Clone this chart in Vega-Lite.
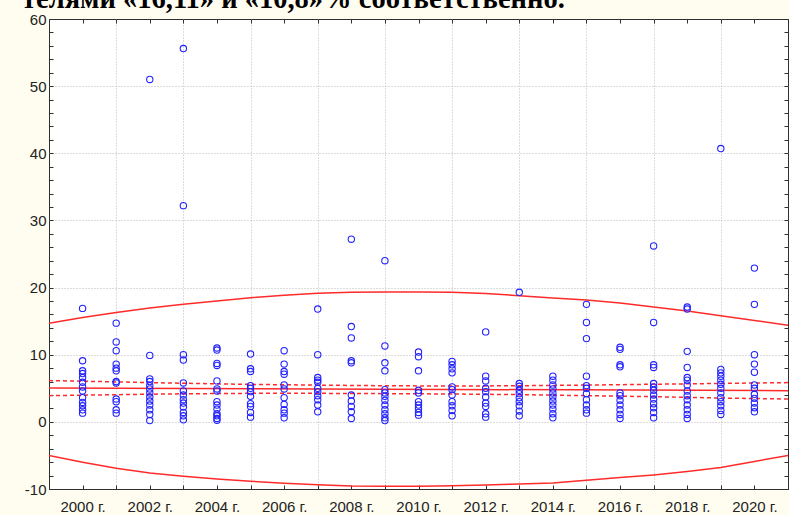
{
  "$schema": "https://vega.github.io/schema/vega-lite/v6.json",
  "width": 739,
  "height": 470,
  "autosize": {"type": "none"},
  "padding": {"left": 49, "top": 19, "right": 1, "bottom": 26},
  "background": "#FFFCF0",
  "title": {"text": "телями «16,11» и «10,8»% соответственно.", "anchor": "start", "frame": "group", "dx": -27, "offset": -24, "font": "Liberation Serif", "fontSize": 28.5, "fontWeight": "bold", "color": "#000000", "baseline": "alphabetic"},
  "config": {
    "view": {"fill": "white", "stroke": "#303030", "strokeWidth": 1},
    "axis": {"domain": false, "labelFont": "Liberation Sans", "labelFontSize": 14, "labelColor": "#222222", "tickColor": "#303030", "labelOverlap": false, "title": null}
  },
  "datasets": {
    "pts": [
      {"year":2000,"value":16.9},{"year":2000,"value":9.1},{"year":2000,"value":7.6},{"year":2000,"value":7.2},{"year":2000,"value":6.6},{"year":2000,"value":5.9},{"year":2000,"value":5.2},{"year":2000,"value":4.6},{"year":2000,"value":3.6},{"year":2000,"value":2.9},{"year":2000,"value":2.4},{"year":2000,"value":1.8},{"year":2000,"value":1.3},
      {"year":2001,"value":14.7},{"year":2001,"value":11.9},{"year":2001,"value":10.6},{"year":2001,"value":8.6},{"year":2001,"value":8.0},{"year":2001,"value":7.6},{"year":2001,"value":6.0},{"year":2001,"value":5.8},{"year":2001,"value":3.4},{"year":2001,"value":3.0},{"year":2001,"value":1.8},{"year":2001,"value":1.3},
      {"year":2002,"value":51.0},{"year":2002,"value":9.9},{"year":2002,"value":6.4},{"year":2002,"value":6.0},{"year":2002,"value":5.4},{"year":2002,"value":4.9},{"year":2002,"value":4.3},{"year":2002,"value":3.7},{"year":2002,"value":3.1},{"year":2002,"value":2.5},{"year":2002,"value":1.8},{"year":2002,"value":1.1},{"year":2002,"value":0.2},
      {"year":2003,"value":55.6},{"year":2003,"value":32.2},{"year":2003,"value":10.0},{"year":2003,"value":9.2},{"year":2003,"value":5.8},{"year":2003,"value":4.6},{"year":2003,"value":4.0},{"year":2003,"value":3.3},{"year":2003,"value":2.8},{"year":2003,"value":2.2},{"year":2003,"value":1.4},{"year":2003,"value":0.9},{"year":2003,"value":0.3},
      {"year":2004,"value":11.0},{"year":2004,"value":10.7},{"year":2004,"value":8.7},{"year":2004,"value":8.4},{"year":2004,"value":6.1},{"year":2004,"value":4.9},{"year":2004,"value":4.6},{"year":2004,"value":3.0},{"year":2004,"value":2.5},{"year":2004,"value":1.9},{"year":2004,"value":1.2},{"year":2004,"value":0.9},{"year":2004,"value":0.5},{"year":2004,"value":0.25},
      {"year":2005,"value":10.1},{"year":2005,"value":7.9},{"year":2005,"value":7.5},{"year":2005,"value":5.4},{"year":2005,"value":5.0},{"year":2005,"value":4.5},{"year":2005,"value":3.8},{"year":2005,"value":2.7},{"year":2005,"value":2.3},{"year":2005,"value":1.4},{"year":2005,"value":0.7},
      {"year":2006,"value":10.6},{"year":2006,"value":8.6},{"year":2006,"value":7.5},{"year":2006,"value":7.1},{"year":2006,"value":5.5},{"year":2006,"value":4.9},{"year":2006,"value":3.6},{"year":2006,"value":2.6},{"year":2006,"value":1.8},{"year":2006,"value":1.3},{"year":2006,"value":0.6},
      {"year":2007,"value":16.8},{"year":2007,"value":10.0},{"year":2007,"value":6.6},{"year":2007,"value":6.2},{"year":2007,"value":5.9},{"year":2007,"value":5.0},{"year":2007,"value":4.5},{"year":2007,"value":3.9},{"year":2007,"value":3.3},{"year":2007,"value":2.5},{"year":2007,"value":1.5},
      {"year":2008,"value":27.2},{"year":2008,"value":14.2},{"year":2008,"value":12.5},{"year":2008,"value":9.1},{"year":2008,"value":8.8},{"year":2008,"value":4.0},{"year":2008,"value":3.1},{"year":2008,"value":2.3},{"year":2008,"value":1.5},{"year":2008,"value":0.5},
      {"year":2009,"value":24.0},{"year":2009,"value":11.3},{"year":2009,"value":8.8},{"year":2009,"value":7.6},{"year":2009,"value":4.8},{"year":2009,"value":4.3},{"year":2009,"value":3.8},{"year":2009,"value":3.2},{"year":2009,"value":2.5},{"year":2009,"value":1.8},{"year":2009,"value":1.2},{"year":2009,"value":0.6},{"year":2009,"value":0.2},
      {"year":2010,"value":10.4},{"year":2010,"value":9.7},{"year":2010,"value":7.6},{"year":2010,"value":4.7},{"year":2010,"value":4.3},{"year":2010,"value":3.0},{"year":2010,"value":2.5},{"year":2010,"value":2.0},{"year":2010,"value":1.4},{"year":2010,"value":1.0},
      {"year":2011,"value":9.0},{"year":2011,"value":8.5},{"year":2011,"value":7.9},{"year":2011,"value":7.3},{"year":2011,"value":5.2},{"year":2011,"value":4.8},{"year":2011,"value":4.0},{"year":2011,"value":3.0},{"year":2011,"value":2.4},{"year":2011,"value":1.7},{"year":2011,"value":0.9},
      {"year":2012,"value":13.4},{"year":2012,"value":6.8},{"year":2012,"value":6.1},{"year":2012,"value":5.0},{"year":2012,"value":4.5},{"year":2012,"value":3.7},{"year":2012,"value":2.8},{"year":2012,"value":2.3},{"year":2012,"value":1.2},{"year":2012,"value":0.7},
      {"year":2013,"value":19.3},{"year":2013,"value":5.7},{"year":2013,"value":5.3},{"year":2013,"value":4.7},{"year":2013,"value":4.2},{"year":2013,"value":3.6},{"year":2013,"value":3.0},{"year":2013,"value":2.4},{"year":2013,"value":1.6},{"year":2013,"value":0.9},
      {"year":2014,"value":6.8},{"year":2014,"value":6.2},{"year":2014,"value":5.5},{"year":2014,"value":4.9},{"year":2014,"value":4.3},{"year":2014,"value":3.7},{"year":2014,"value":3.1},{"year":2014,"value":2.5},{"year":2014,"value":1.9},{"year":2014,"value":1.2},{"year":2014,"value":0.6},
      {"year":2015,"value":17.5},{"year":2015,"value":14.8},{"year":2015,"value":12.4},{"year":2015,"value":6.8},{"year":2015,"value":5.4},{"year":2015,"value":5.0},{"year":2015,"value":4.2},{"year":2015,"value":3.3},{"year":2015,"value":2.5},{"year":2015,"value":1.8},{"year":2015,"value":1.3},
      {"year":2016,"value":11.1},{"year":2016,"value":10.8},{"year":2016,"value":8.5},{"year":2016,"value":8.2},{"year":2016,"value":4.3},{"year":2016,"value":3.9},{"year":2016,"value":3.2},{"year":2016,"value":2.5},{"year":2016,"value":1.8},{"year":2016,"value":1.1},{"year":2016,"value":0.5},
      {"year":2017,"value":26.2},{"year":2017,"value":14.8},{"year":2017,"value":8.5},{"year":2017,"value":8.1},{"year":2017,"value":5.7},{"year":2017,"value":5.2},{"year":2017,"value":4.7},{"year":2017,"value":4.0},{"year":2017,"value":3.4},{"year":2017,"value":2.7},{"year":2017,"value":2.1},{"year":2017,"value":1.4},{"year":2017,"value":0.6},
      {"year":2018,"value":17.1},{"year":2018,"value":16.8},{"year":2018,"value":10.5},{"year":2018,"value":8.1},{"year":2018,"value":6.6},{"year":2018,"value":6.2},{"year":2018,"value":5.5},{"year":2018,"value":4.6},{"year":2018,"value":3.9},{"year":2018,"value":3.3},{"year":2018,"value":2.5},{"year":2018,"value":1.8},{"year":2018,"value":1.1},{"year":2018,"value":0.5},
      {"year":2019,"value":40.7},{"year":2019,"value":7.8},{"year":2019,"value":7.3},{"year":2019,"value":6.8},{"year":2019,"value":6.2},{"year":2019,"value":5.6},{"year":2019,"value":5.0},{"year":2019,"value":4.3},{"year":2019,"value":3.6},{"year":2019,"value":3.0},{"year":2019,"value":2.4},{"year":2019,"value":1.7},{"year":2019,"value":1.1},
      {"year":2020,"value":22.9},{"year":2020,"value":17.5},{"year":2020,"value":10.0},{"year":2020,"value":8.6},{"year":2020,"value":7.4},{"year":2020,"value":5.5},{"year":2020,"value":5.0},{"year":2020,"value":4.1},{"year":2020,"value":3.5},{"year":2020,"value":2.8},{"year":2020,"value":2.1},{"year":2020,"value":1.5}
    ],
    "lines": [
      {"s":"pu","t":"solid","year":1999,"value":14.7},{"s":"pu","t":"solid","year":2000,"value":15.55},{"s":"pu","t":"solid","year":2001,"value":16.3},{"s":"pu","t":"solid","year":2002,"value":16.95},{"s":"pu","t":"solid","year":2003,"value":17.5},{"s":"pu","t":"solid","year":2004,"value":18.0},{"s":"pu","t":"solid","year":2005,"value":18.5},{"s":"pu","t":"solid","year":2006,"value":18.85},{"s":"pu","t":"solid","year":2007,"value":19.15},{"s":"pu","t":"solid","year":2008,"value":19.3},{"s":"pu","t":"solid","year":2009,"value":19.35},{"s":"pu","t":"solid","year":2010,"value":19.35},{"s":"pu","t":"solid","year":2011,"value":19.3},{"s":"pu","t":"solid","year":2012,"value":19.1},{"s":"pu","t":"solid","year":2013,"value":18.8},{"s":"pu","t":"solid","year":2014,"value":18.45},{"s":"pu","t":"solid","year":2015,"value":18.15},{"s":"pu","t":"solid","year":2016,"value":17.7},{"s":"pu","t":"solid","year":2017,"value":17.1},{"s":"pu","t":"solid","year":2018,"value":16.5},{"s":"pu","t":"solid","year":2019,"value":15.8},{"s":"pu","t":"solid","year":2020,"value":15.1},{"s":"pu","t":"solid","year":2021,"value":14.4},
      {"s":"pl","t":"solid","year":1999,"value":-5.0},{"s":"pl","t":"solid","year":2000,"value":-6.0},{"s":"pl","t":"solid","year":2001,"value":-6.9},{"s":"pl","t":"solid","year":2002,"value":-7.6},{"s":"pl","t":"solid","year":2003,"value":-8.1},{"s":"pl","t":"solid","year":2004,"value":-8.5},{"s":"pl","t":"solid","year":2005,"value":-8.85},{"s":"pl","t":"solid","year":2006,"value":-9.15},{"s":"pl","t":"solid","year":2007,"value":-9.35},{"s":"pl","t":"solid","year":2008,"value":-9.55},{"s":"pl","t":"solid","year":2009,"value":-9.6},{"s":"pl","t":"solid","year":2010,"value":-9.6},{"s":"pl","t":"solid","year":2011,"value":-9.5},{"s":"pl","t":"solid","year":2012,"value":-9.4},{"s":"pl","t":"solid","year":2013,"value":-9.25},{"s":"pl","t":"solid","year":2014,"value":-9.1},{"s":"pl","t":"solid","year":2015,"value":-8.7},{"s":"pl","t":"solid","year":2016,"value":-8.3},{"s":"pl","t":"solid","year":2017,"value":-7.9},{"s":"pl","t":"solid","year":2018,"value":-7.4},{"s":"pl","t":"solid","year":2019,"value":-6.8},{"s":"pl","t":"solid","year":2020,"value":-5.9},{"s":"pl","t":"solid","year":2021,"value":-5.0},
      {"s":"reg","t":"solid","year":1999,"value":5.05},{"s":"reg","t":"solid","year":2021,"value":4.65},
      {"s":"cu","t":"dash","year":1999,"value":6.15},{"s":"cu","t":"dash","year":2001,"value":5.95},{"s":"cu","t":"dash","year":2003,"value":5.75},{"s":"cu","t":"dash","year":2005,"value":5.58},{"s":"cu","t":"dash","year":2007,"value":5.47},{"s":"cu","t":"dash","year":2009,"value":5.38},{"s":"cu","t":"dash","year":2011,"value":5.33},{"s":"cu","t":"dash","year":2013,"value":5.38},{"s":"cu","t":"dash","year":2015,"value":5.48},{"s":"cu","t":"dash","year":2017,"value":5.6},{"s":"cu","t":"dash","year":2019,"value":5.72},{"s":"cu","t":"dash","year":2021,"value":5.85},
      {"s":"cl","t":"dash","year":1999,"value":3.9},{"s":"cl","t":"dash","year":2001,"value":4.05},{"s":"cl","t":"dash","year":2003,"value":4.18},{"s":"cl","t":"dash","year":2005,"value":4.25},{"s":"cl","t":"dash","year":2007,"value":4.25},{"s":"cl","t":"dash","year":2009,"value":4.2},{"s":"cl","t":"dash","year":2011,"value":4.15},{"s":"cl","t":"dash","year":2013,"value":4.05},{"s":"cl","t":"dash","year":2015,"value":3.9},{"s":"cl","t":"dash","year":2017,"value":3.75},{"s":"cl","t":"dash","year":2019,"value":3.55},{"s":"cl","t":"dash","year":2021,"value":3.4}
    ]
  },
  "layer": [
    {
      "data": {"name": "lines"},
      "transform": [{"filter": "datum.t == 'solid'"}],
      "mark": {"type": "line", "color": "#ff2a2a", "strokeWidth": 1.5, "clip": true},
      "encoding": {
        "x": {"field": "year", "type": "quantitative", "scale": {"domain": [1999, 2021], "nice": false, "zero": false},
              "axis": {"orient": "top", "values": [1999,2000,2001,2002,2003,2004,2005,2006,2007,2008,2009,2010,2011,2012,2013,2014,2015,2016,2017,2018,2019,2020,2021], "labels": false, "grid": false, "tickSize": -4}},
        "y": {"field": "value", "type": "quantitative", "scale": {"domain": [-10, 60], "nice": false, "zero": false},
              "axis": {"orient": "right", "values": [-10,-8,-6,-4,-2,0,2,4,6,8,10,12,14,16,18,20,22,24,26,28,30,32,34,36,38,40,42,44,46,48,50,52,54,56,58,60], "labels": false, "grid": false, "tickSize": -4}},
        "detail": {"field": "s"}
      }
    },
    {
      "data": {"name": "lines"},
      "transform": [{"filter": "datum.t == 'dash'"}],
      "mark": {"type": "line", "color": "#ff2a2a", "strokeWidth": 1.5, "strokeDash": [4, 3], "clip": true},
      "encoding": {
        "x": {"field": "year", "type": "quantitative", "axis": null},
        "y": {"field": "value", "type": "quantitative", "axis": null},
        "detail": {"field": "s"}
      }
    },
    {
      "data": {"name": "pts"},
      "mark": {"type": "point", "shape": "circle", "filled": false, "color": "#2222ff", "strokeWidth": 1.1, "size": 40, "opacity": 1},
      "encoding": {
        "x": {"field": "year", "type": "quantitative",
              "axis": {"orient": "bottom", "values": [1999,2000,2001,2002,2003,2004,2005,2006,2007,2008,2009,2010,2011,2012,2013,2014,2015,2016,2017,2018,2019,2020,2021],
                       "labelExpr": "datum.value % 2 == 0 ? datum.value + ' г.' : ''", "grid": true, "gridColor": "#b8b8b8", "gridDash": [1, 2],
                       "gridOpacity": {"condition": {"test": "datum.value % 2 == 1 && datum.value > 1999 && datum.value < 2021", "value": 1}, "value": 0},
                       "tickSize": -4, "labelPadding": 14, "labelFontSize": 15}},
        "y": {"field": "value", "type": "quantitative",
              "axis": {"orient": "left", "values": [-10,-8,-6,-4,-2,0,2,4,6,8,10,12,14,16,18,20,22,24,26,28,30,32,34,36,38,40,42,44,46,48,50,52,54,56,58,60],
                       "labelExpr": "datum.value % 10 == 0 ? '' + datum.value : ''", "grid": true, "gridColor": "#b8b8b8", "gridDash": [1, 2],
                       "gridOpacity": {"condition": {"test": "datum.value % 10 == 0 && datum.value > -10 && datum.value < 60", "value": 1}, "value": 0},
                       "tickSize": -4, "labelPadding": 7, "labelFontSize": 15}}
      }
    }
  ],
  "resolve": {"axis": {"x": "independent", "y": "independent"}}
}
